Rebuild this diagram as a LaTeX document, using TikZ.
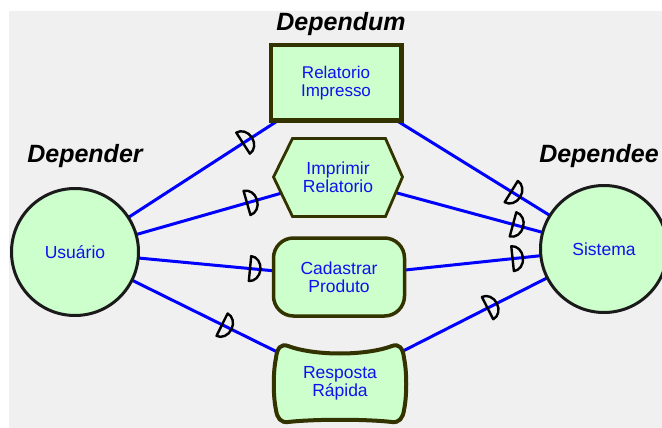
\documentclass[tikz,border=0pt]{standalone}
\usepackage{fontspec}
\setmainfont{Liberation Sans}
\usetikzlibrary{decorations.markings}
\pgfdeclarelayer{background}
\pgfsetlayers{background,main}
\definecolor{bggray}{HTML}{F0F0F0}
\definecolor{goalfill}{HTML}{CCFFCC}
\definecolor{elemline}{HTML}{333300}
\definecolor{actorline}{HTML}{1A1A1A}
\definecolor{linkblue}{HTML}{0000FF}
\definecolor{labelblue}{HTML}{1010F0}

\begin{document}
\begin{tikzpicture}[x=1pt,y=-1pt,
  txt/.style={font=\fontsize{17.5}{17.7}\selectfont, text=labelblue, align=center, inner sep=0pt},
  actor/.style={circle, draw=actorline, line width=3pt, fill=goalfill, minimum size=127pt, txt},
  elem/.style={draw=elemline, fill=goalfill},
  title/.style={font=\fontsize{25}{25}\selectfont\bfseries\itshape, anchor=base, inner sep=0pt},
  link/.style={draw=linkblue, line width=3pt},
  dmark/.style={draw=black, line width=2.4pt, line join=round},
  dep/.style={link, postaction={decorate}, decoration={markings,
    mark=at position #1 with {\draw[dmark] (0pt,12.5pt) arc[start angle=90, end angle=-90, x radius=10.5pt, y radius=12.5pt] -- cycle;}}}
]
\useasboundingbox (0,0) rectangle (662,428);

% column titles
\node[title] (tdependum) at (341,31) {Dependum};
\node[title] (tdepender) at (85,162) {Depender};
\node[title] (tdependee) at (599,162) {Dependee};

% actors
\node[actor] (usuario) at (75,252) {Usuário};
\node[actor] (sistema) at (604,249) {Sistema};

% resource: rectangle
\node[elem, rectangle, line width=4.5pt, minimum width=130.5pt, minimum height=75.5pt,
      txt, font=\fontsize{17}{17.5}\selectfont] (ri) at (336,83) {Relatorio\\Impresso};

% task: hexagon
\filldraw[elem, line width=2.8pt] (273.5,177) -- (292.5,138.5) -- (385.5,138.5) -- (402.5,177)
  -- (385.5,216.5) -- (292.5,216.5) -- cycle;
\node[txt] (ir) at (338,177) {Imprimir\\Relatorio};

% goal: rounded rectangle
\node[elem, rectangle, rounded corners=20pt, line width=3.5pt, minimum width=131pt, minimum height=78pt,
      txt] (cp) at (339,277) {Cadastrar\\Produto};

% softgoal: pillow shape with rounded corners
\filldraw[elem, line width=4pt] (288,346)
  .. controls (315,356) and (365,356) .. (392,346)
  .. controls (399,343.4) and (403,348) .. (404,358)
  .. controls (407,372) and (407,396) .. (404,410)
  .. controls (403,418) and (399,423) .. (392,422)
  .. controls (365,419) and (315,419) .. (288,422)
  .. controls (281,423) and (277,418) .. (276,410)
  .. controls (273,396) and (273,372) .. (276,358)
  .. controls (277,348) and (281,343.4) .. cycle;
\node[txt] (rr) at (340,383) {Resposta\\Rápida};

% dependency links, kept beneath the elements
\begin{pgfonlayer}{background}
\fill[bggray] (9,11) rectangle (662,428);
\draw[dep=0.644] (usuario.center) -- (ri.center);
\draw[dep=0.654] (usuario.center) -- (ir.center);
\draw[dep=0.663] (usuario.center) -- (cp.center);
\draw[dep=0.555] (usuario.center) -- (rr.center);
\draw[dep=0.654] (ri.center) -- (sistema.center);
\draw[dep=0.658] (ir.center) -- (sistema.center);
\draw[dep=0.655] (cp.center) -- (sistema.center);
\draw[dep=0.559] (rr.center) -- (sistema.center);
\end{pgfonlayer}
\end{tikzpicture}
\end{document}
